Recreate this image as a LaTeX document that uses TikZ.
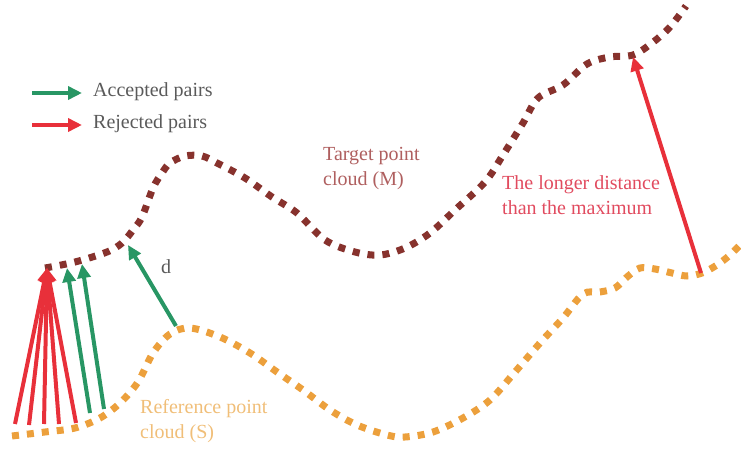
\documentclass[tikz,border=0pt]{standalone}
\usepackage{fontspec}
\setmainfont{Liberation Serif}
\usetikzlibrary{arrows.meta}
\definecolor{tgtc}{RGB}{135,50,45}
\definecolor{refc}{RGB}{236,160,60}
\definecolor{accc}{RGB}{40,150,100}
\definecolor{rejc}{RGB}{232,48,58}
\definecolor{tgttxt}{RGB}{175,95,95}
\definecolor{reftxt}{RGB}{240,190,120}
\definecolor{maxtxt}{RGB}{225,75,95}
\definecolor{legtxt}{RGB}{90,90,90}
\begin{document}
\begin{tikzpicture}[x=1pt,y=-1pt,
  cloudline/.style={line width=7pt, dash pattern=on 7pt off 8pt},
  pairarrow/.style={line width=4pt, -{Triangle[length=14pt,width=13pt]}},
  lbl/.style={font=\fontsize{20}{25}\selectfont, align=left, anchor=north west, inner sep=0pt}]
\useasboundingbox (0,0) rectangle (741,449);
% target cloud
\draw[cloudline, tgtc] plot[smooth, tension=0.55] coordinates {
 (45,268) (75,262) (107,252) (122,243) (133,230) (142,217) (153,188) (162,173) (170,163) (185,156) (202,156) (217,163) (245,178) (272,197) (297,213) (325,240) (355,252) (380,255) (405,248) (430,233) (455,210) (485,182) (503,155) (523,123) (538,98) (563,85) (587,64) (610,57) (633,55) (652,43) (670,27) (686,6)};
% reference cloud
\draw[cloudline, refc] plot[smooth, tension=0.55] coordinates {
 (12,436) (45,432) (75,428) (100,418) (120,403) (138,382) (153,353) (170,334) (190,328) (220,337) (250,353) (277,372) (303,390) (330,410) (357,425) (387,435) (405,437) (433,432) (463,418) (490,400) (515,372) (540,343) (563,318) (583,294) (600,292) (615,288) (627,277) (640,268) (655,269) (672,273) (687,276) (702,273) (717,265) (730,255) (741,244)};
% tip points
\coordinate (t0) at (47,268);
\coordinate (t1) at (67,268);
\coordinate (t2) at (82,264);
\coordinate (t3) at (128,245);
\coordinate (t4) at (633,57);
% source points
\coordinate (s0) at (15,424);
\coordinate (s1) at (29,425);
\coordinate (s2) at (44,424);
\coordinate (s3) at (59,424);
\coordinate (s4) at (76,423);
\coordinate (s5) at (90,413);
\coordinate (s6) at (104,409);
\coordinate (s7) at (176,326);
\coordinate (s8) at (701,273);
% rejected
\foreach \s in {s0,s1,s2,s3,s4}
  \draw[pairarrow, rejc] (\s) -- (t0);
% accepted
\draw[pairarrow, accc] (s5) -- (t1);
\draw[pairarrow, accc] (s6) -- (t2);
\draw[pairarrow, accc] (s7) -- (t3);
\draw[pairarrow, rejc] (s8) -- (t4);
% legend
\coordinate (la0) at (32,93);
\coordinate (la1) at (82,93);
\coordinate (lr0) at (32,125);
\coordinate (lr1) at (82,125);
\draw[pairarrow, accc] (la0) -- (la1);
\draw[pairarrow, rejc] (lr0) -- (lr1);
\node[lbl, anchor=west, text=legtxt] (acc) at (93,92) {Accepted pairs};
\node[lbl, anchor=west, text=legtxt] (rej) at (93,124) {Rejected pairs};
% labels
\node[lbl, text=tgttxt] (tgt) at (323,147) {Target point\\cloud (M)};
\node[lbl, text=maxtxt] (mx) at (502,175) {The longer distance\\than the maximum};
\node[lbl, text=reftxt] (ref) at (140,399) {Reference point\\cloud (S)};
\node[lbl, text=legtxt] (d) at (161,259) {d};
\end{tikzpicture}
\end{document}
